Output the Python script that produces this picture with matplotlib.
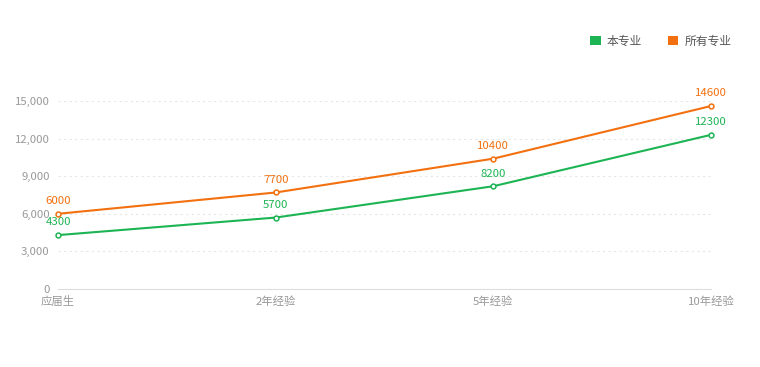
import matplotlib
matplotlib.use("Agg")
import matplotlib.pyplot as plt
from matplotlib.patches import Patch

plt.rcParams['font.family'] = ['Noto Sans CJK SC', 'DejaVu Sans']

categories = ['应届生', '2年经验', '5年经验', '10年经验']
major_vals = [4300, 5700, 8200, 12300]
all_vals = [6000, 7700, 10400, 14600]
series_names = ['本专业', '所有专业']
yticks = [0, 3000, 6000, 9000, 12000, 15000]

green = '#1db454'
orange = '#f2700f'

fig = plt.figure(figsize=(7.6, 3.67), dpi=100)
ax = fig.add_axes([58/760, 1-289/367, (711-58)/760, (289-101)/367])

x = list(range(len(categories)))
for vals, col in [(major_vals, green), (all_vals, orange)]:
    ax.plot(x, vals, color=col, lw=1.5, marker='o', ms=3.5, mfc='white',
            mec=col, mew=1.1, clip_on=False, zorder=3)
    for xi, v in zip(x, vals):
        ax.annotate(str(v), (xi, v), xytext=(0, 5.5), textcoords='offset points',
                    ha='center', va='bottom', color=col, fontsize=8.2)

ax.set_xlim(0, 3)
ax.set_ylim(0, 15000)
ax.set_yticks(yticks)
ax.set_yticklabels([f'{v:,}' for v in yticks])
ax.set_xticks(x)
ax.set_xticklabels(categories)
ax.tick_params(axis='both', colors='#999999', labelsize=8.2, length=0)
ax.tick_params(axis='y', pad=6)
ax.tick_params(axis='x', pad=5)
for yv in yticks[1:]:
    ax.axhline(yv, color='#e6e6e6', lw=0.8, ls=(0, (2, 3)), zorder=0)
for s in ['top', 'right', 'left']:
    ax.spines[s].set_visible(False)
ax.spines['bottom'].set_color('#dddddd')
ax.spines['bottom'].set_linewidth(0.8)

handles = [Patch(facecolor=green, edgecolor='none'), Patch(facecolor=orange, edgecolor='none')]
fig.legend(handles, series_names, loc='center right', bbox_to_anchor=(742/760, 1-41/367),
           ncol=2, frameon=False, fontsize=8.5, handlelength=0.9, handleheight=0.9,
           handletextpad=0.5, columnspacing=2.2, labelcolor='#555555')

fig.savefig('out.png', dpi=100, facecolor='white')
